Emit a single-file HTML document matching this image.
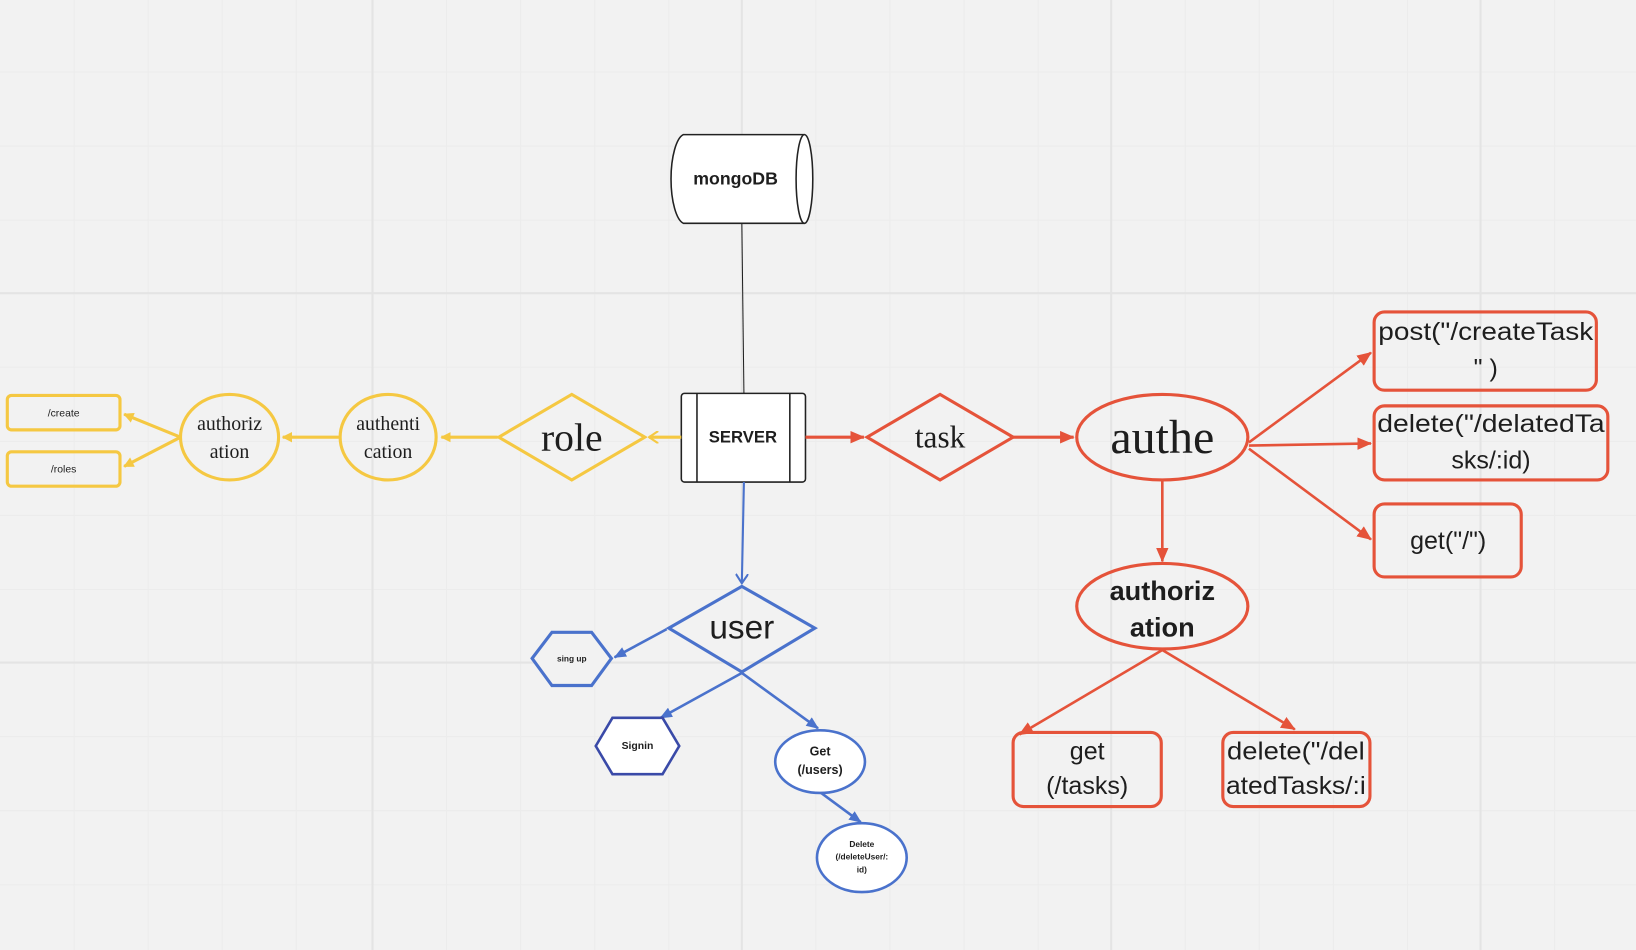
<!DOCTYPE html>
<html><head><meta charset="utf-8"><style>
html,body{margin:0;padding:0;background:#f2f2f2;width:1636px;height:950px;overflow:hidden}
svg{display:block}
.s{font-family:"Liberation Sans","DejaVu Sans",sans-serif;fill:#1e1e1e}
.f{font-family:"Liberation Serif",serif;fill:#1e1e1e}
</style></head><body>
<svg width="1636" height="950" viewBox="0 0 1568 910.5" xmlns="http://www.w3.org/2000/svg">
<defs>
<marker id="ay" markerWidth="10" markerHeight="10" refX="9" refY="5" orient="auto" markerUnits="userSpaceOnUse"><path d="M0,0 L10,5 L0,10 z" fill="#f5c842"/></marker>
<marker id="ayo" markerWidth="10" markerHeight="12" refX="9" refY="6" orient="auto" markerUnits="userSpaceOnUse"><path d="M0,0 L9,6 L0,12" fill="none" stroke="#f5c842" stroke-width="2"/></marker>
<marker id="ar" markerWidth="14" markerHeight="12" refX="13" refY="6" orient="auto" markerUnits="userSpaceOnUse"><path d="M0,0 L14,6 L0,12 z" fill="#e5533a"/></marker>
<marker id="ab" markerWidth="12" markerHeight="10" refX="11" refY="5" orient="auto" markerUnits="userSpaceOnUse"><path d="M0,0 L12,5 L0,10 z" fill="#4a72cc"/></marker>
<marker id="abo" markerWidth="10" markerHeight="12" refX="9" refY="6" orient="auto" markerUnits="userSpaceOnUse"><path d="M0,0 L9,6 L0,12" fill="none" stroke="#4a72cc" stroke-width="2"/></marker>
</defs>
<rect width="1568" height="911" fill="#f2f2f2"/>
<g stroke="#ececec" stroke-width="1">
<path d="M71 0V911M142 0V911M213 0V911M284 0V911M428 0V911M499 0V911M570 0V911M641 0V911M782 0V911M853 0V911M924 0V911M995 0V911M1136 0V911M1207 0V911M1278 0V911M1349 0V911M1490 0V911"/>
<path d="M0 69H1568M0 140H1568M0 211H1568M0 352H1568M0 423H1568M0 494H1568M0 565H1568M0 706H1568M0 777H1568M0 848H1568"/>
</g>
<g stroke="#e4e4e4" stroke-width="2"><path d="M357 0V911M711 0V911M1065 0V911M1419 0V911M0 281H1568M0 635H1568"/></g>

<line x1="711" y1="214" x2="713" y2="377" stroke="#222" stroke-width="1"/>
<path d="M655 129 H771 A9 43 0 0 1 771 214 H655 A14 43 0 0 1 655 129 Z" fill="#fff" stroke="#222" stroke-width="1.5"/>
<ellipse cx="771" cy="171.5" rx="8" ry="42.5" fill="#fff" stroke="#222" stroke-width="1.5"/>
<text x="705" y="177" text-anchor="middle" class="s" font-size="17" font-weight="bold">mongoDB</text>

<rect x="653" y="377" width="119" height="85" rx="3" fill="#fff" stroke="#222" stroke-width="1.5"/>
<path d="M668 377V462M757 377V462" stroke="#222" stroke-width="1.5"/>
<text x="712" y="424" text-anchor="middle" class="s" font-size="16" font-weight="bold">SERVER</text>

<g stroke="#f5c842" stroke-width="3" fill="none">
<line x1="653" y1="419" x2="622" y2="419" marker-end="url(#ayo)"/>
<path d="M478 419 L548 378 L618 419 L548 460 Z"/>
<line x1="477" y1="419" x2="423" y2="419" marker-end="url(#ay)"/>
<ellipse cx="372" cy="419" rx="46" ry="41"/>
<line x1="325" y1="419" x2="271" y2="419" marker-end="url(#ay)"/>
<ellipse cx="220" cy="419" rx="47" ry="41"/>
<line x1="173" y1="419" x2="119" y2="397" marker-end="url(#ay)"/>
<line x1="173" y1="419" x2="119" y2="447" marker-end="url(#ay)"/>
<rect x="7" y="379" width="108" height="33" rx="4"/>
<rect x="7" y="433" width="108" height="33" rx="4"/>
</g>
<text x="548" y="432" text-anchor="middle" class="f" font-size="38">role</text>
<text x="372" y="412" text-anchor="middle" class="f" font-size="19">authenti</text>
<text x="372" y="439" text-anchor="middle" class="f" font-size="19">cation</text>
<text x="220" y="412" text-anchor="middle" class="f" font-size="19">authoriz</text>
<text x="220" y="439" text-anchor="middle" class="f" font-size="19">ation</text>
<text x="61" y="399" text-anchor="middle" class="s" font-size="10">/create</text>
<text x="61" y="453" text-anchor="middle" class="s" font-size="10">/roles</text>

<g stroke="#e5533a" stroke-width="3" fill="none">
<line x1="772" y1="419" x2="828" y2="419" marker-end="url(#ar)"/>
<path d="M831 419 L901 378 L971 419 L901 460 Z"/>
<line x1="971" y1="419" x2="1029" y2="419" marker-end="url(#ar)"/>
<ellipse cx="1114" cy="419" rx="82" ry="41"/>
<line x1="1197" y1="424" x2="1314" y2="338" stroke-width="2.5" marker-end="url(#ar)"/>
<line x1="1197" y1="427" x2="1314" y2="425" stroke-width="2.5" marker-end="url(#ar)"/>
<line x1="1197" y1="430" x2="1314" y2="517" stroke-width="2.5" marker-end="url(#ar)"/>
<rect x="1317" y="299" width="213" height="75" rx="10"/>
<rect x="1317" y="389" width="224" height="71" rx="10"/>
<rect x="1317" y="483" width="141" height="70" rx="10"/>
<line x1="1114" y1="461" x2="1114" y2="538" stroke-width="2.5" marker-end="url(#ar)"/>
<ellipse cx="1114" cy="581" rx="82" ry="41"/>
<line x1="1114" y1="623" x2="977" y2="704" stroke-width="2.5" marker-end="url(#ar)"/>
<line x1="1114" y1="623" x2="1241" y2="699" stroke-width="2.5" marker-end="url(#ar)"/>
<rect x="971" y="702" width="142" height="71" rx="10"/>
<rect x="1172" y="702" width="141" height="71" rx="10"/>
</g>
<text x="901" y="429" text-anchor="middle" class="f" font-size="30">task</text>
<text x="1114" y="434" text-anchor="middle" class="f" font-size="46">authe</text>
<text x="1424" y="326" text-anchor="middle" class="s" font-size="24" textLength="206" lengthAdjust="spacingAndGlyphs">post("/createTask</text>
<text x="1424" y="361" text-anchor="middle" class="s" font-size="24">" )</text>
<text x="1429" y="414" text-anchor="middle" class="s" font-size="24" textLength="218" lengthAdjust="spacingAndGlyphs">delete("/delatedTa</text>
<text x="1429" y="449" text-anchor="middle" class="s" font-size="24">sks/:id)</text>
<text x="1388" y="526" text-anchor="middle" class="s" font-size="24">get("/")</text>
<text x="1114" y="575" text-anchor="middle" class="s" font-size="26" font-weight="bold">authoriz</text>
<text x="1114" y="610" text-anchor="middle" class="s" font-size="26" font-weight="bold">ation</text>
<text x="1042" y="728" text-anchor="middle" class="s" font-size="24">get</text>
<text x="1042" y="761" text-anchor="middle" class="s" font-size="24">(/tasks)</text>
<text x="1242" y="728" text-anchor="middle" class="s" font-size="24" textLength="132" lengthAdjust="spacingAndGlyphs">delete("/del</text>
<text x="1242" y="761" text-anchor="middle" class="s" font-size="24" textLength="134" lengthAdjust="spacingAndGlyphs">atedTasks/:i</text>

<g stroke="#4a72cc" stroke-width="2.5" fill="none">
<line x1="713" y1="462" x2="711" y2="559" stroke-width="2" marker-end="url(#abo)"/>
<path d="M641 602 L711 562 L781 602 L711 644 Z" stroke-width="3"/>
<line x1="639" y1="603" x2="589" y2="630" marker-end="url(#ab)"/>
<path d="M510 631 L529 606 L567 606 L586 631 L567 657 L529 657 Z" fill="#f2f2f2" stroke-width="3"/>
<line x1="711" y1="645" x2="633" y2="688" marker-end="url(#ab)"/>
<path d="M571 715 L587 688 L635 688 L651 715 L635 742 L587 742 Z" fill="#fff" stroke="#3a4aa8"/>
<line x1="711" y1="645" x2="784" y2="698" marker-end="url(#ab)"/>
<ellipse cx="786" cy="730" rx="43" ry="30" fill="#fff"/>
<line x1="787" y1="760" x2="825" y2="788" marker-end="url(#ab)"/>
<ellipse cx="826" cy="822" rx="43" ry="33" fill="#fff"/>
</g>
<text x="711" y="612" text-anchor="middle" class="s" font-size="32">user</text>
<text x="548" y="634" text-anchor="middle" class="s" font-size="8" font-weight="bold">sing up</text>
<text x="611" y="718" text-anchor="middle" class="s" font-size="10" font-weight="bold">Signin</text>
<text x="786" y="724" text-anchor="middle" class="s" font-size="12" font-weight="bold">Get</text>
<text x="786" y="742" text-anchor="middle" class="s" font-size="12" font-weight="bold">(/users)</text>
<text x="826" y="812" text-anchor="middle" class="s" font-size="8" font-weight="bold">Delete</text>
<text x="826" y="824" text-anchor="middle" class="s" font-size="8" font-weight="bold">(/deleteUser/:</text>
<text x="826" y="836" text-anchor="middle" class="s" font-size="8" font-weight="bold">id)</text>
</svg>
</body></html>
